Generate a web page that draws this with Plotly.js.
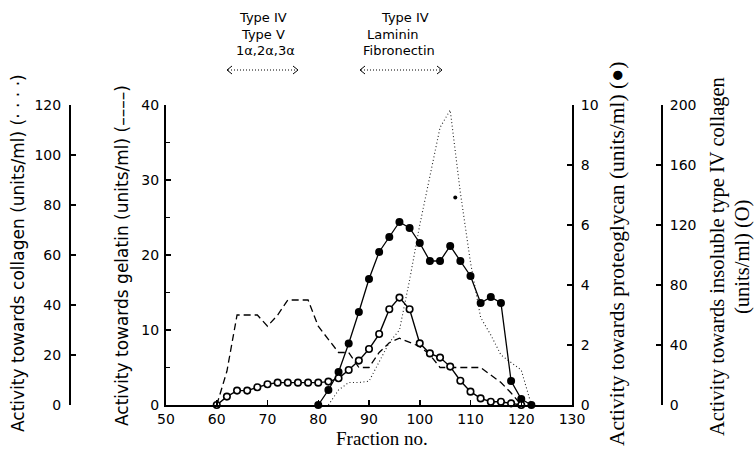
<!DOCTYPE html>
<html>
<head>
<meta charset="utf-8">
<script src="https://cdn.plot.ly/plotly-3.0.1.min.js"></script>
<style>html,body{margin:0;padding:0;background:#fff;}#chart{width:754px;height:451px;}</style>
</head>
<body>
<div id="chart"></div>
<script>
// ---- data ----
var xTicks = [50, 60, 70, 80, 90, 100, 110, 120, 130];

// Activity towards collagen (units/ml), dotted line
var collagenFraction = [82, 84, 86, 88, 90, 92, 94, 96, 98, 100, 102, 104, 106, 108, 110, 112, 114, 116, 118, 120, 122];
var collagenActivity = [0, 6, 9, 9, 9.5, 17, 25, 30, 50, 72, 91, 111, 118, 85, 57, 35, 28, 20, 17, 14, 0];
var collagenStrayFraction = [107];
var collagenStrayActivity = [83];

// Activity towards gelatin (units/ml), dashed line
var gelatinFraction = [60, 62, 64, 68, 70, 72, 74, 78, 80, 84, 86, 88, 90, 92, 94, 96, 100, 102, 104, 112, 116, 118, 120];
var gelatinActivity = [0, 4.5, 12, 12, 10.5, 12, 14, 14, 10.5, 7, 7, 5, 5, 7, 8.3, 8.9, 7.8, 6.7, 5, 5, 3, 1.6, 0];

// Activity towards proteoglycan (units/ml), filled circles
var proteoFraction = [80, 82, 84, 86, 88, 90, 92, 94, 96, 98, 100, 102, 104, 106, 108, 110, 112, 114, 116, 118, 120, 122];
var proteoActivity = [0, 0.5, 1.1, 2.05, 3.1, 4.2, 5.1, 5.6, 6.1, 5.9, 5.4, 4.8, 4.8, 5.3, 4.8, 4.3, 3.4, 3.6, 3.4, 0.8, 0.2, 0];

// Activity towards insoluble type IV collagen (units/ml), open circles
var insolFraction = [60, 62, 64, 66, 68, 70, 72, 74, 76, 78, 80, 82, 84, 86, 88, 90, 92, 94, 96, 98, 100, 102, 104, 106, 108, 110, 112, 114, 116, 118, 120];
var insolActivity = [0, 5.6, 9.6, 9.6, 11.8, 13.8, 14.9, 14.9, 14.9, 14.9, 14.9, 15.6, 17.8, 23.3, 29.6, 37.3, 47.3, 63.8, 71.6, 63.8, 41.1, 34.4, 31.6, 25.6, 16.2, 8.9, 4.4, 2.2, 2.2, 1.1, 0];

var collagenTicks = [0, 20, 40, 60, 80, 100, 120];
var gelatinTicks = [0, 10, 20, 30, 40];
var gelatinMinor = [5, 15, 25, 35];
var proteoTicks = [0, 2, 4, 6, 8, 10];
var insolTicks = [0, 40, 80, 120, 160, 200];

// ---- layout helpers (pixel -> paper) ----
var W = 754, H = 451;
function px(x) { return x / W; }
function py(y) { return (H - y) / H; }

var sans = 'DejaVu Sans, Liberation Sans, sans-serif';
var serif = 'Liberation Serif, Times New Roman, serif';
var tickFont = {family: sans, size: 14, color: '#000'};

var traces = [
  {x: collagenFraction, y: collagenActivity, yaxis: 'y2', mode: 'lines',
   line: {color: '#222', width: 1.1, dash: '1px,2.5px'}, hoverinfo: 'skip'},
  {x: collagenStrayFraction, y: collagenStrayActivity, yaxis: 'y2', mode: 'markers',
   marker: {color: '#000', size: 4}, hoverinfo: 'skip'},
  {x: gelatinFraction, y: gelatinActivity, yaxis: 'y', mode: 'lines',
   line: {color: '#000', width: 1.3, dash: '7px,4px'}, hoverinfo: 'skip'},
  {x: proteoFraction, y: proteoActivity, yaxis: 'y3', mode: 'lines+markers', cliponaxis: false,
   line: {color: '#000', width: 1.3}, marker: {color: '#000', size: 8}, hoverinfo: 'skip'},
  {x: insolFraction, y: insolActivity, yaxis: 'y4', mode: 'lines+markers', cliponaxis: false,
   line: {color: '#000', width: 1.4},
   marker: {color: '#fff', size: 6.5, line: {color: '#000', width: 1.6}}, hoverinfo: 'skip'}
];

var xDom = [px(166), px(572)];
var yDom = [py(405), py(105)];

function yax(extra) {
  var base = {
    showline: true, linewidth: 2, linecolor: '#000', showgrid: false, zeroline: false,
    ticks: 'inside', ticklen: 5, tickwidth: 1.5, tickcolor: '#000', tickfont: tickFont
  };
  for (var k in extra) base[k] = extra[k];
  return base;
}

var layout = {
  width: W, height: H,
  margin: {l: 0, r: 0, t: 0, b: 0},
  paper_bgcolor: '#fff', plot_bgcolor: 'rgba(0,0,0,0)',
  showlegend: false,
  xaxis: {domain: xDom, range: [50, 130], anchor: 'y', tickvals: xTicks,
          showline: true, linewidth: 2, linecolor: '#000', showgrid: false, zeroline: false,
          ticks: 'inside', ticklen: 5, tickwidth: 1.5, tickcolor: '#000', tickfont: tickFont,
          ticklabelstandoff: 0},
  yaxis: yax({domain: yDom, range: [0, 40], anchor: 'x', side: 'left', tickvals: gelatinTicks,
              minor: {tickvals: gelatinMinor, ticks: 'inside', ticklen: 4, tickwidth: 1.2, tickcolor: '#000'},
              ticklabelstandoff: 2}),
  yaxis2: yax({range: [0, 120], overlaying: 'y', anchor: 'free', position: px(70), side: 'left',
               tickvals: collagenTicks, ticklabelstandoff: 5}),
  yaxis3: yax({range: [0, 10], overlaying: 'y', anchor: 'x', side: 'right', tickvals: proteoTicks,
               ticklabelstandoff: 4}),
  yaxis4: yax({range: [0, 200], overlaying: 'y', anchor: 'free', position: px(662), side: 'right',
               tickvals: insolTicks, ticklabelstandoff: 4}),
  annotations: [
    {text: 'Activity towards collagen (units/ml) (\u00b7 \u00b7 \u00b7 \u00b7)', xref: 'paper', yref: 'paper',
     x: px(18), y: py(253), textangle: -90, showarrow: false, xanchor: 'center', yanchor: 'middle',
     font: {family: sans, size: 17, color: '#000'}},
    {text: 'Activity towards gelatin (units/ml) (\u2013\u2013\u2013\u2013)', xref: 'paper', yref: 'paper',
     x: px(122), y: py(256), textangle: -90, showarrow: false, xanchor: 'center', yanchor: 'middle',
     font: {family: sans, size: 17, color: '#000'}},
    {text: 'Activity towards proteoglycan (units/ml) (\u25cf)', xref: 'paper', yref: 'paper',
     x: px(617), y: py(254), textangle: -90, showarrow: false, xanchor: 'center', yanchor: 'middle',
     font: {family: serif, size: 21.5, color: '#000'}},
    {text: 'Activity towards insoluble type IV collagen', xref: 'paper', yref: 'paper',
     x: px(717), y: py(257), textangle: -90, showarrow: false, xanchor: 'center', yanchor: 'middle',
     font: {family: serif, size: 20.5, color: '#000'}},
    {text: '(units/ml) (O)', xref: 'paper', yref: 'paper',
     x: px(742), y: py(257), textangle: -90, showarrow: false, xanchor: 'center', yanchor: 'middle',
     font: {family: serif, size: 20.5, color: '#000'}},
    {text: 'Fraction no.', xref: 'paper', yref: 'paper', x: px(382), y: py(438),
     showarrow: false, xanchor: 'center', yanchor: 'middle',
     font: {family: serif, size: 19, color: '#000'}},
    {text: 'Type IV', xref: 'paper', yref: 'paper', x: px(263), y: py(17), showarrow: false,
     xanchor: 'center', yanchor: 'middle', font: {family: sans, size: 13, color: '#000'}},
    {text: 'Type V', xref: 'paper', yref: 'paper', x: px(263), y: py(34), showarrow: false,
     xanchor: 'center', yanchor: 'middle', font: {family: sans, size: 13, color: '#000'}},
    {text: '1\u03b1,2\u03b1,3\u03b1', xref: 'paper', yref: 'paper', x: px(265), y: py(51), showarrow: false,
     xanchor: 'center', yanchor: 'middle', font: {family: sans, size: 13, color: '#000'}},
    {text: 'Type IV', xref: 'paper', yref: 'paper', x: px(405), y: py(17), showarrow: false,
     xanchor: 'center', yanchor: 'middle', font: {family: sans, size: 13, color: '#000'}},
    {text: 'Laminin', xref: 'paper', yref: 'paper', x: px(393), y: py(34), showarrow: false,
     xanchor: 'center', yanchor: 'middle', font: {family: sans, size: 13, color: '#000'}},
    {text: 'Fibronectin', xref: 'paper', yref: 'paper', x: px(399), y: py(51), showarrow: false,
     xanchor: 'center', yanchor: 'middle', font: {family: sans, size: 13, color: '#000'}}
  ],
  shapes: []
};

function arrowShapes(x0, x1, y) {
  var s = [];
  s.push({type: 'line', xref: 'paper', yref: 'paper', x0: px(x0 + 1), x1: px(x1 - 1), y0: py(y), y1: py(y),
          line: {color: '#000', width: 1, dash: '1px,2px'}});
  s.push({type: 'path', xref: 'paper', yref: 'paper',
          path: 'M' + px(x0 + 5) + ',' + py(y - 4) + ' L' + px(x0) + ',' + py(y) + ' L' + px(x0 + 5) + ',' + py(y + 4),
          line: {color: '#000', width: 1}});
  s.push({type: 'path', xref: 'paper', yref: 'paper',
          path: 'M' + px(x1 - 5) + ',' + py(y - 4) + ' L' + px(x1) + ',' + py(y) + ' L' + px(x1 - 5) + ',' + py(y + 4),
          line: {color: '#000', width: 1}});
  return s;
}
layout.shapes = arrowShapes(227, 298, 70).concat(arrowShapes(360, 442, 70));

Plotly.newPlot('chart', traces, layout, {staticPlot: true, displayModeBar: false});
</script>
</body>
</html>
